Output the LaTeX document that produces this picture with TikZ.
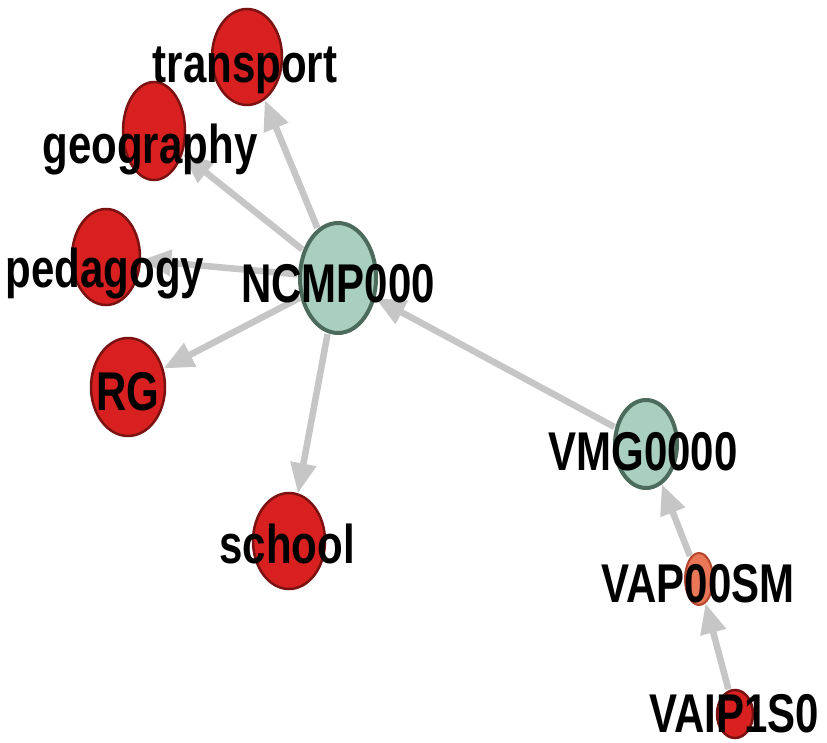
\documentclass[tikz,border=0pt]{standalone}
\usepackage{fontspec}
\setmainfont{Liberation Sans}
\usetikzlibrary{shapes.geometric,arrows.meta}
\definecolor{redfill}{HTML}{D92020}
\definecolor{redline}{HTML}{7A1212}
\definecolor{tealfill}{HTML}{A9CFC0}
\definecolor{tealline}{HTML}{4C6B5D}
\definecolor{salmonfill}{HTML}{EA7658}
\definecolor{salmonline}{HTML}{B4462C}
\definecolor{edgegray}{HTML}{C6C6C6}
\newcommand{\tallword}[1]{\scalebox{1}[1.3]{#1}}
\tikzset{
  blob/.style n args={2}{ellipse, inner sep=0pt, minimum width=#1pt, minimum height=#2pt},
  rednode/.style={fill=redfill, draw=redline, line width=2.5pt},
  tealnode/.style={fill=tealfill, draw=tealline, line width=4pt},
  salmonnode/.style={fill=salmonfill, draw=salmonline, line width=2pt},
  link/.style={draw=edgegray, line width=6.5pt,
    -{Triangle[length=30pt,width=25pt]}, shorten <=1pt},
  tag/.style={anchor=base, inner sep=0pt,
    font=\fontsize{42}{50}\selectfont\bfseries, text=black}
}
\begin{document}
\begin{tikzpicture}[x=1pt,y=-1pt]
\useasboundingbox (0,0) rectangle (827,742);
\fill[white] (0,0) rectangle (827,742);

% nodes
\node[blob={70}{96}, rednode]   (transport)  at (247,57)  {};
\node[blob={62}{98}, rednode]   (geography)  at (154,131) {};
\node[blob={68}{96}, rednode]   (pedagogy)   at (106,257) {};
\node[blob={76}{110}, tealnode] (ncmp)       at (338,278) {};
\node[blob={74}{98}, rednode]   (rg)         at (128,387) {};
\node[blob={72}{96}, rednode]   (school)     at (289,541) {};
\node[blob={62}{88}, tealnode]  (vmg)        at (646,444) {};
\node[blob={28}{52}, salmonnode](vap)        at (699,579) {};
\node[blob={36}{48}, rednode]   (vaip)       at (735,714) {};

% connectors
\draw[link] (ncmp) -- (transport);
\draw[link] (ncmp) -- (geography);
\draw[link] (ncmp) -- (pedagogy);
\draw[link] (ncmp) -- (rg);
\draw[link] (ncmp) -- (school);
\draw[link] (vmg) -- (ncmp);
\draw[link] (vap) -- (vmg);
\draw[link] (vaip) -- (vap);

% labels
\node[tag] (ltransport) at (245,82)  {\tallword{transport}};
\node[tag] (lgeography) at (150,163) {\tallword{geography}};
\node[tag] (lpedagogy)  at (105,287) {\tallword{pedagogy}};
\node[tag] (lncmp)      at (338,302) {\tallword{NCMP000}};
\node[tag] (lrg)        at (128,410) {\tallword{RG}};
\node[tag] (lschool)    at (287,563) {\tallword{school}};
\node[tag] (lvmg)       at (643,470) {\tallword{VMG0000}};
\node[tag] (lvap)       at (698,602) {\tallword{VAP00SM}};
\node[tag] (lvaip)      at (734,732) {\tallword{VAIP1S0}};
\end{tikzpicture}
\end{document}
